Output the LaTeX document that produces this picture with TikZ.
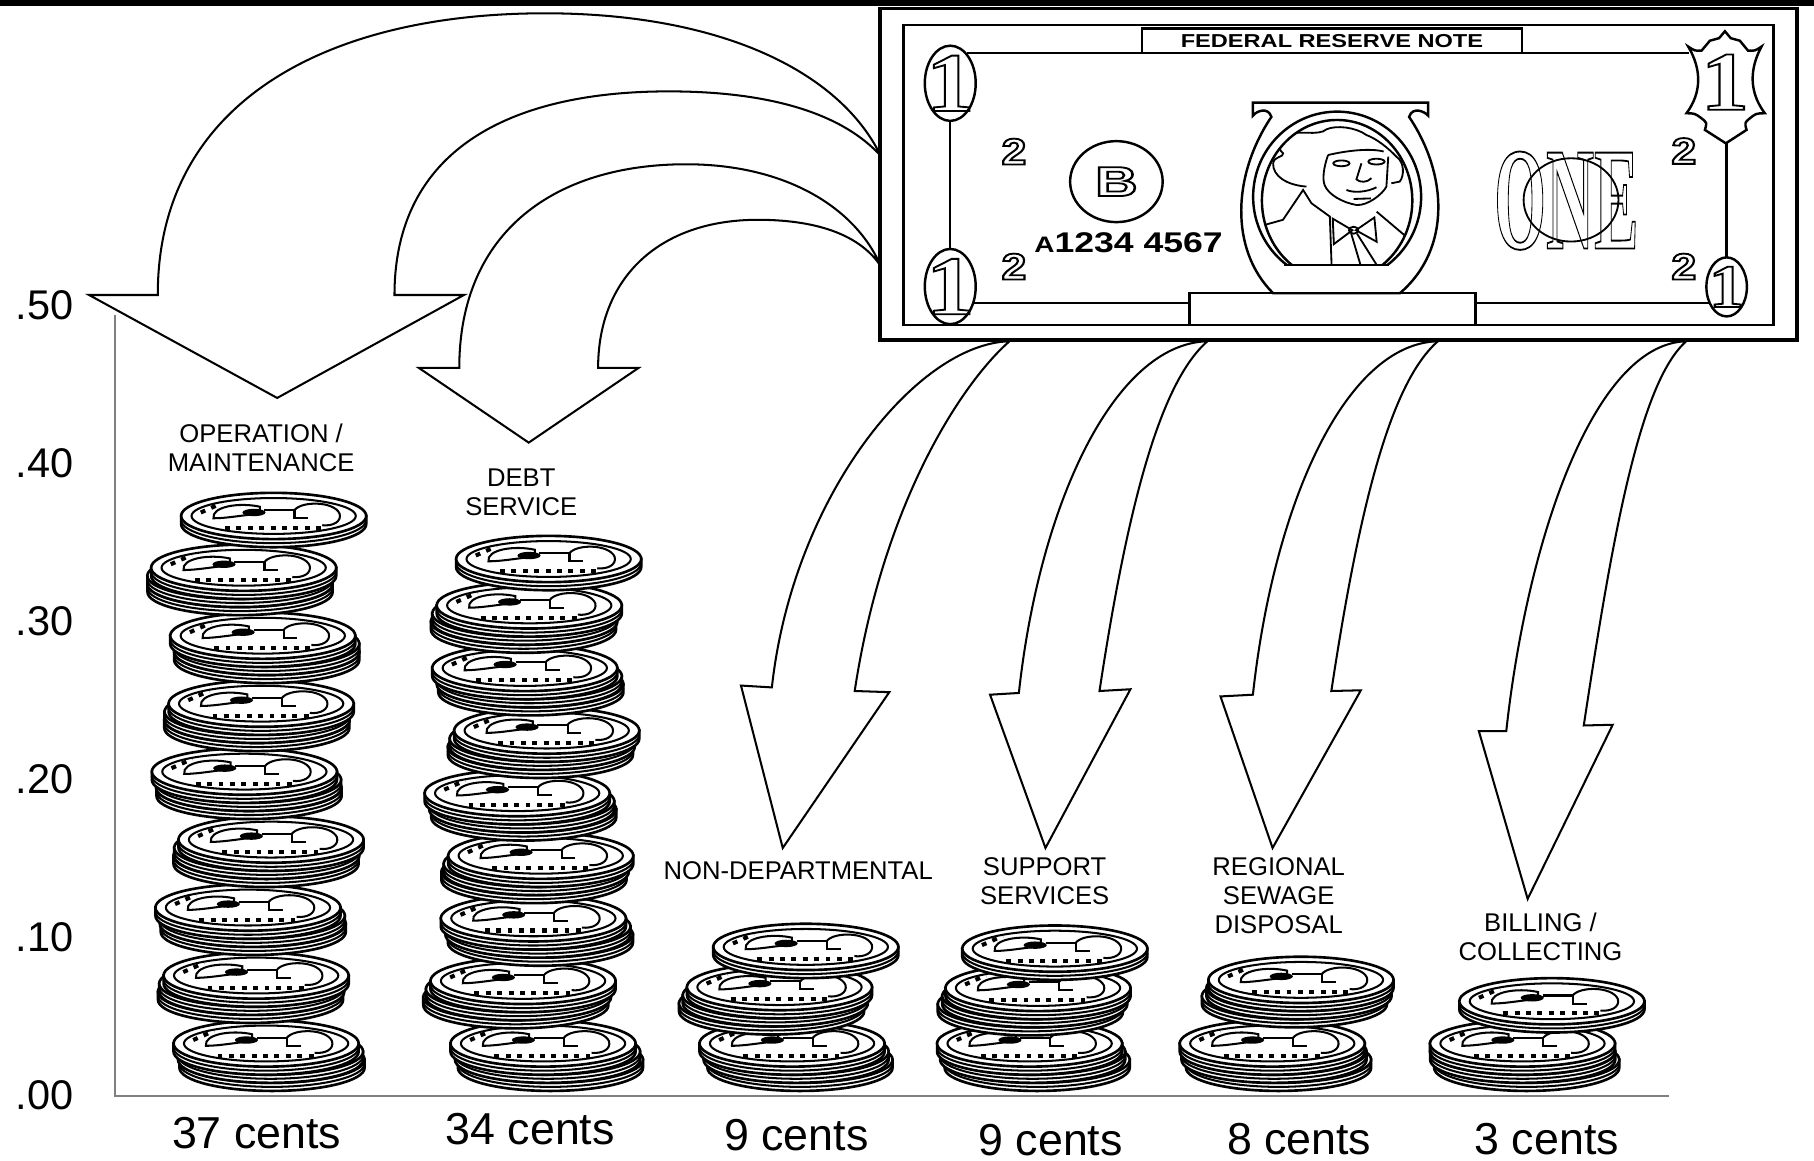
\documentclass[tikz,border=0pt]{standalone}
\usepackage{fontspec}
\setmainfont{Liberation Sans}
\newfontfamily\serifone{Liberation Serif}

% outlined glyphs
\newcommand\hollow[1]{\special{pdf:literal direct 1 Tr 0.45 w}#1\special{pdf:literal direct 0 Tr}}

% Coin size
\def\coinrx{80}
\def\coinry{20}
\def\coinht{7}

% one coin, face centre at (#1,#2)
\newcommand\coin[2]{%
  \filldraw[coinedge] (#1-\coinrx,#2) -- ++(0,\coinht) arc[start angle=180,end angle=0,x radius=\coinrx,y radius=\coinry] -- ++(0,-\coinht) -- cycle;
  \draw[coinfine] (#1-\coinrx,#2+3.5) arc[start angle=180,end angle=0,x radius=\coinrx,y radius=\coinry];
  \filldraw[coinedge] (#1,#2) ellipse[x radius=\coinrx,y radius=\coinry];
  \draw[coinfine] (#1,#2) ellipse[x radius=71,y radius=15.5];
  \draw[coinfine] (#1-52,#2+2) .. controls (#1-54,#2-8) and (#1-30,#2-12) .. (#1-12,#2-8) -- (#1-12,#2-2)
    .. controls (#1-25,#2-1) and (#1-40,#2+2) .. cycle;
  \fill (#1-17,#2-3) ellipse[x radius=10,y radius=3.2];
  \draw[coinfine] (#1-8,#2-5) -- (#1+18,#2-5) -- (#1+18,#2+2) -- (#1+30,#2+2);
  \draw[coinfine] (#1+18,#2-5) .. controls (#1+24,#2-13) and (#1+52,#2-13) .. (#1+57,#2-2)
    .. controls (#1+59,#2+5) and (#1+51,#2+9) .. (#1+42,#2+8);
  \draw[coindots] (#1-42,#2+10.5) -- (#1+42,#2+10.5);
  \draw[coindots] (#1-63,#2-3) -- (#1-45,#2-11);
}

\tikzset{
  coinedge/.style={draw=black, fill=white, line width=0.65pt},
  coinfine/.style={draw=black, line width=0.5pt},
  coindots/.style={draw=black, line width=1pt, dash pattern=on 1.2pt off 1.6pt},
  bigarrow/.style={draw=black, fill=white, line width=0.5pt},
  billborder/.style={draw=black, line width=0.85pt},
  billline/.style={draw=black, line width=0.6pt},
  billfine/.style={draw=black, line width=0.45pt},
  axisline/.style={draw=black!50, line width=0.55pt},
  ticklbl/.style={font=\fontsize{10.2}{12}\selectfont, inner sep=0pt, anchor=east},
  catlbl/.style={font=\fontsize{6.3}{7.1}\selectfont, align=center, inner sep=0pt},
  centlbl/.style={font=\fontsize{11}{13}\selectfont, inner sep=0pt},
  bignum/.style={font=\serifone\bfseries\fontsize{20.6}{21}\selectfont, xscale=1.15, inner sep=0pt},
  smallnum/.style={font=\bfseries\fontsize{9.1}{10}\selectfont, xscale=1.2, inner sep=0pt},
}

\begin{document}
\begin{tikzpicture}[x=0.01cm, y=-0.01cm]

  \useasboundingbox (0,0) rectangle (1568,1003.5);

  % top band
  \fill (0,0) rectangle (1568,5.5);

  % Axis
  \draw[axisline] (99.5,272) -- (99.5,947.5) -- (1443,947.5);
  \foreach \v [count=\k from 0] in {.00,.10,.20,.30,.40,.50}
    \node[ticklbl] (tick\k) at (64,947-136.7*\k) {\v};

  % Coin stacks: piles of three, every third step leaves a face showing
  \foreach \cx/\n/\B/\s in {222/25/44.75/1, 460/25/40.1/2, 682/7/34.75/3, 898/7/34/4, 1115/6/41/5, 1330/4/36.5/6}{
    \xdef\cury{916}
    \foreach \i in {1,...,\n}{
      \pgfmathtruncatemacro\grp{div(\i-1,3)}
      \pgfmathsetmacro\xx{\cx+12*sin(\grp*137.5+\s*50)+4*sin(\i*59+\s*20)}
      \coin{\xx}{\cury}
      \pgfmathsetmacro\nexty{\cury-(mod(\i,3)==0 ? \B : 7)}
      \xdef\cury{\nexty}
    }
  }

  % Category labels
  \node[catlbl] (ops) at (225.7,387) {OPERATION /\\MAINTENANCE};
  \node[catlbl] (debt) at (450.6,425.3) {DEBT\\SERVICE};
  \node[catlbl] (nondep) at (690,752.6) {NON-DEPARTMENTAL};
  \node[catlbl] (support) at (903,762) {SUPPORT\\SERVICES};
  \node[catlbl] (regional) at (1105.3,774.2) {REGIONAL\\SEWAGE\\DISPOSAL};
  \node[catlbl] (billing) at (1331.6,809.9) {BILLING /\\COLLECTING};

  % Amounts
  \node[centlbl] (c37) at (221.8,979.3) {37 cents};
  \node[centlbl] (c34) at (458.3,976) {34 cents};
  \node[centlbl] (c9a) at (688.3,980.8) {9 cents};
  \node[centlbl] (c9b) at (908.2,985.2) {9 cents};
  \node[centlbl] (c8) at (1123,984.5) {8 cents};
  \node[centlbl] (c3) at (1337,985) {3 cents};

  % Points on the bill edge
  \coordinate (billA) at (761.5,135);
  \coordinate (billB) at (761.5,230.4);

  % Curved arrows to the left
  \draw[bigarrow] (billA) .. controls (725,60) and (620,11.5) .. (471,11.5)
    .. controls (280,11.5) and (136,90) .. (136.4,255) -- (77,255) -- (239.6,344) -- (401,255) -- (341,255)
    .. controls (341,130) and (440,79) .. (578,79) .. controls (670,79) and (730,100) .. cycle;
  \draw[bigarrow] (billB) .. controls (740,180) and (680,142) .. (593,142)
    .. controls (480,142) and (397,200) .. (397,318) -- (362,318) -- (457,382.6) -- (552,318) -- (517,318)
    .. controls (517,240) and (570,190) .. (655,190) .. controls (710,190) and (745,205) .. cycle;

  % Arrows down from the bill
  \foreach \tx/\lx/\ly/\hlx/\hly/\px/\py/\hrx/\hry/\rx/\ry in {
      872.6/667.2/594.2/640.5/592.6/676.6/733/768.7/598.3/738.8/597.3,
      1043.7/880.7/599/855.8/600.5/903.7/733/977.1/595.8/950.4/597.3,
      1242.9/1083/600.5/1055/602/1100/733/1176.3/596.7/1150.8/597.3,
      1457.6/1302/632/1278.3/632/1320.5/777/1394/626.5/1369/627.1}
    \draw[bigarrow] (\tx,295) .. controls (\tx-80,297) and (\lx+18,\ly-165) .. (\lx,\ly) -- (\hlx,\hly)
      -- (\px,\py) -- (\hrx,\hry) -- (\rx,\ry) .. controls (\rx+25,\ry-165) and (\tx-40,330) .. cycle;

  % Bill
  \filldraw[billborder, fill=white] (760.6,7.2) rectangle (1553.5,293.8);
  \draw[billline] (781,21.6) rectangle (1533,280.8);
  \draw[billline] (987,24.5) rectangle (1315.7,46);
  \node[font=\bfseries\fontsize{4.6}{5}\selectfont, xscale=1.26, inner sep=0pt] (frn) at (1151.3,35.5) {FEDERAL RESERVE NOTE};
  \draw[billline] (836,46) -- (1460,46);
  \draw[billline] (842,262) -- (1028,262);
  \draw[billline] (1275.5,262) -- (1478,262);

  % portrait frame
  \filldraw[billline, fill=white] (1100.5,253.5) .. controls (1062,215) and (1066,150) .. (1099,101)
    .. controls (1096,92) and (1086,96) .. (1083,100) -- (1083,88.7) -- (1234.5,88.7) -- (1234.5,100)
    .. controls (1231,96) and (1221,92) .. (1218,101) .. controls (1251,150) and (1255,215) .. (1210,253.5) -- cycle;
  \begin{scope}
    \clip (1000,0) rectangle (1300,229);
    \draw[billline] (1155.8,170.1) ellipse[x radius=72.6,y radius=73.6];
    \draw[billline] (1155.8,173.4) ellipse[x radius=65,y radius=69.7];
  \end{scope}
  \draw[billline] (1110,229) -- (1201,229);
  \draw[billline] (1028,253.4) rectangle (1275.5,280.8);

  % portrait
  \begin{scope}
    \clip (1155.8,173.4) ellipse[x radius=65,y radius=69.7];
    \clip (1000,0) rectangle (1300,229);
    \draw[billfine] (1129.3,161.3) .. controls (1112,160) and (1100,152) .. (1100.5,141.2)
      .. controls (1101,135) and (1110,136) .. (1109.1,132.5) .. controls (1103,128) and (1106,118) .. (1114.9,116.7)
      .. controls (1120,112) and (1140,118) .. (1146.6,111.8) .. controls (1155,108) and (1172,110) .. (1181.1,116.7)
      .. controls (1190,120) and (1200,128) .. (1207,135.4) .. controls (1214,140) and (1214,152) .. (1209.9,157) -- (1202.7,158.4);
    \draw[billfine] (1148,134) .. controls (1165,130) and (1185,128) .. (1196,131);
    \draw[billfine] (1148,134) .. controls (1144,145) and (1143,155) .. (1145,160)
      .. controls (1148,168) and (1160,175) .. (1172.5,177.2) .. controls (1182,178) and (1195,168) .. (1198.4,161.3) -- (1200,135.4);
    \draw[billfine] (1159.5,141.2) ellipse[x radius=7,y radius=2.5];
    \draw[billfine] (1189.8,139.7) ellipse[x radius=7,y radius=2.5];
    \draw[billfine] (1176.8,141.2) -- (1172.5,155) .. controls (1175,158) and (1182,158) .. (1185.5,154);
    \draw[billfine] (1163.9,164.2) .. controls (1170,167) and (1182,166) .. (1189.8,161.9);
    \draw[billfine] (1170,172) -- (1185,171.5);
    \draw[billfine] (1084,197) -- (1109,190) -- (1126.4,164.2) -- (1133.6,175.7) -- (1149.5,187.2) -- (1151,229);
    \draw[billfine] (1190,183) -- (1216,205);
    \draw[billfine] (1152,189) -- (1169,199) -- (1153,211) -- cycle;
    \draw[billfine] (1188,188) -- (1172,199) -- (1190,209) -- cycle;
    \draw[billfine] (1170,199) ellipse[x radius=4,y radius=3];
    \draw[billfine] (1168,202) -- (1176,229);
    \draw[billfine] (1173,202) -- (1190,229);
  \end{scope}

  % corner ones
  \draw[billline] (821.4,72) ellipse[x radius=22,y radius=32.5];
  \draw[billline] (821.4,247.7) ellipse[x radius=22,y radius=32.5];
  \draw[billline] (1492.5,248) ellipse[x radius=17.5,y radius=25.5];
  \draw[billline] (821.4,104.5) -- (821.4,215.2);
  \draw[billline] (1492.5,123.9) -- (1492.5,222.5);
  \filldraw[billline, fill=white] (1459.3,40.3) .. controls (1465,44) .. (1470.8,43.8) -- (1478,35.2) -- (1486,33)
    -- (1491,27) -- (1496,33) -- (1503.9,35.2) -- (1511,43.8) .. controls (1517,44) .. (1522.6,40.3)
    .. controls (1512,60) and (1512,80) .. (1525.5,97.9) .. controls (1518,98) .. (1512.5,102.3)
    .. controls (1508,106) .. (1509.7,112.3) -- (1491.8,123.9) -- (1473.7,112.3) .. controls (1475.5,106) .. (1470.8,102.3)
    .. controls (1465,98) .. (1457.8,97.9) .. controls (1471,80) and (1471,60) .. cycle;
  \node[bignum] (oneTL) at (821.4,72) {\hollow{1}};
  \node[bignum] (oneBL) at (821.4,247.7) {\hollow{1}};
  \node[bignum, font=\serifone\bfseries\fontsize{15}{15}\selectfont] (oneBR) at (1492.5,248) {\hollow{1}};
  \node[bignum] (oneTR) at (1491,71) {\hollow{1}};

  % twos
  \node[smallnum] (twoA) at (876.5,131) {\hollow{2}};
  \node[smallnum] (twoB) at (876.5,230.4) {\hollow{2}};
  \node[smallnum] (twoC) at (1455.5,130.5) {\hollow{2}};
  \node[smallnum] (twoD) at (1455.5,230.4) {\hollow{2}};

  % seal and serial
  \draw[billline] (965,157) ellipse[x radius=40,y radius=35];
  \node[font=\bfseries\fontsize{10.3}{11}\selectfont, xscale=1.4, inner sep=0pt] (seal) at (965,157) {\hollow{B}};
  \node[font=\bfseries\fontsize{7}{8}\selectfont, xscale=1.25, inner sep=0pt] (serial) at (975.5,210) {{\fontsize{5.5}{6}\selectfont A}1234 4567};

  % ONE
  \draw[billfine] (1358,172.8) ellipse[x radius=41,y radius=36];
  \node[font=\serifone\bfseries\fontsize{36}{36}\selectfont, xscale=0.455, inner sep=0pt] (onetext) at (1354,173.5) {\hollow{ONE}};

\end{tikzpicture}
\end{document}
